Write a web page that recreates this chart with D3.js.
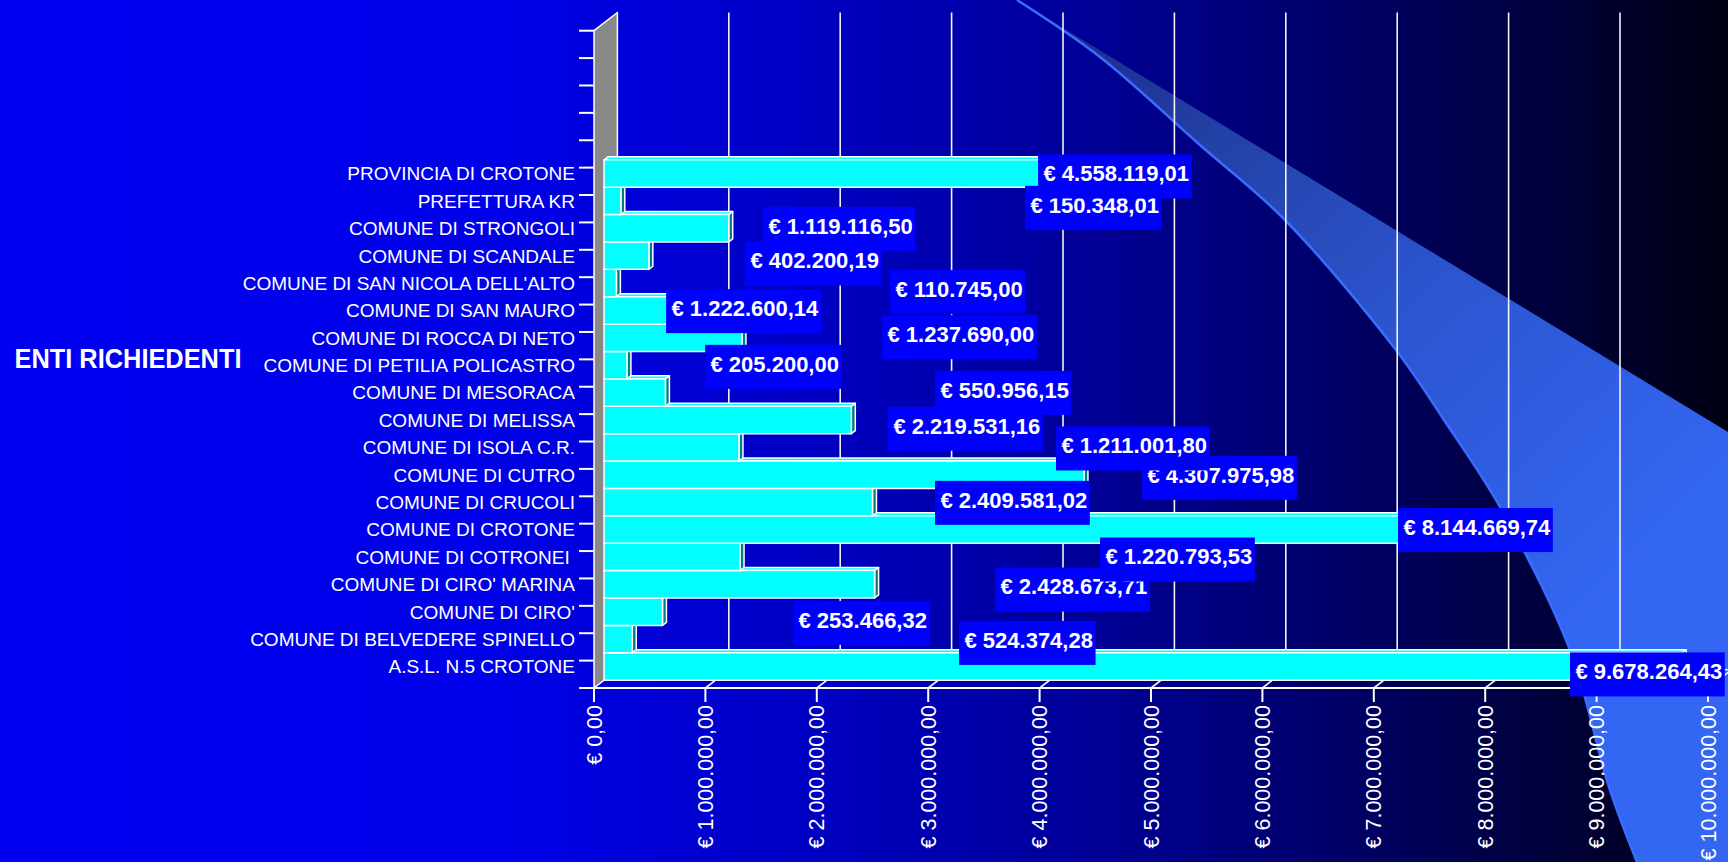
<!DOCTYPE html>
<html><head><meta charset="utf-8">
<script src="https://cdn.jsdelivr.net/npm/d3@7"></script>
<style>html,body{margin:0;padding:0;background:#0000f0;overflow:hidden}svg{display:block}</style>
</head><body><svg id="c" width="1728" height="862"></svg>
<script>
// ---------------- DATA ----------------
const categories = [
  "PROVINCIA DI CROTONE","PREFETTURA KR","COMUNE DI STRONGOLI","COMUNE DI SCANDALE",
  "COMUNE DI SAN NICOLA DELL'ALTO","COMUNE DI SAN MAURO","COMUNE DI ROCCA DI NETO",
  "COMUNE DI PETILIA POLICASTRO","COMUNE DI MESORACA","COMUNE DI MELISSA","COMUNE DI ISOLA C.R.",
  "COMUNE DI CUTRO","COMUNE DI CRUCOLI","COMUNE DI CROTONE","COMUNE DI COTRONEI ",
  "COMUNE DI CIRO' MARINA","COMUNE DI CIRO'","COMUNE DI BELVEDERE SPINELLO","A.S.L. N.5 CROTONE"
];
const values = [
  4558119.01, 150348.01, 1119116.50, 402200.19, 110745.00, 1222600.14, 1237690.00,
  205200.00, 550956.15, 2219531.16, 1211001.80, 4307975.98, 2409581.02, 8144669.74,
  1220793.53, 2428673.71, 524374.28, 253466.32, 9678264.43
];
// data labels as they appear in the picture (top to bottom)
const labelValues = [
  4558119.01, 150348.01, 1119116.50, 402200.19, 110745.00, 1222600.14, 1237690.00,
  205200.00, 550956.15, 2219531.16, 1211001.80, 4307975.98, 2409581.02, 8144669.74,
  1220793.53, 2428673.71, 253466.32, 524374.28, 9678264.43
];
// where each label box sits: left edge (in euro on the value scale) and row (category index)
const labelAtValue = [3.896e6,3.779e6,1.427e6,1.266e6,2.567e6,0.557e6,2.496e6,0.907e6,2.971e6,
  2.549e6,4.057e6,4.829e6,2.971e6,7.127e6,4.452e6,3.510e6,1.697e6,3.187e6,8.671e6];
const labelAtRow = [0.0,1.145,1.911,3.178,4.222,4.916,5.865,6.95,7.9,9.21,9.93,11.0,11.915,12.91,
  13.985,15.08,16.30,17.03,18.18];
const tickValues = [0,1e6,2e6,3e6,4e6,5e6,6e6,7e6,8e6,9e6,1e7];
const blankRows = 5;
const axisTitle = "ENTI RICHIEDENTI";

// ---------------- SETUP ----------------
const W = 1728, H = 862;
const svg = d3.select("#c");
const defs = svg.append("defs");
const fmt = d3.formatLocale({decimal: ",", thousands: ".", grouping: [3], currency: ["€ ", ""]}).format("$,.2f");
const FONT = "'Liberation Sans', Arial, sans-serif";

// background gradient
const bg = defs.append("linearGradient").attr("id","bg").attr("x1",0).attr("x2",1).attr("y1",0).attr("y2",0);
[[0,"#0000f2"],[0.28,"#0000ea"],[0.45,"#0000c8"],[0.62,"#00009a"],[0.78,"#000066"],[0.9,"#00003a"],[1,"#000012"]]
  .forEach(([o,c]) => bg.append("stop").attr("offset",o).attr("stop-color",c));
svg.append("rect").attr("width",W).attr("height",H).attr("fill","url(#bg)");

// decorative swoosh
const sw = defs.append("linearGradient").attr("id","sw").attr("gradientUnits","userSpaceOnUse")
  .attr("x1",1017).attr("y1",0).attr("x2",1600).attr("y2",600);
[[0,"#1a2585"],[0.3,"#2342a8"],[0.6,"#2c55d0"],[1,"#3366f2"]]
  .forEach(([o,c]) => sw.append("stop").attr("offset",o).attr("stop-color",c));
const curvePts = [[1017,0],[1100,57],[1200,145],[1285,220],[1396,350],[1444,420],[1500,507],[1570,650],[1609,787],[1637,862]];
const lg = d3.line().curve(d3.curveCatmullRom.alpha(0.5));
const revPath = lg(curvePts.slice().reverse()).replace(/^M[^LC]*/, "");
svg.append("path").attr("d", "M1017,0L1728,432L1728,862L1637,862" + revPath + "Z").attr("fill","url(#sw)");
svg.append("path").attr("d", lg(curvePts)).attr("fill","none").attr("stroke","#3a6cff").attr("stroke-width",2.5);

// ---------------- SCALES (pseudo 3D) ----------------
const X0 = 594, X1 = 1708, TOP = 30.7, BOT = 688;
const DX = 23.4, DY = -18.2, T0 = 0.43, T1 = 0.6;
const x = d3.scaleLinear().domain([0, 1e7]).range([X0, X1]);
const blanks = d3.range(blankRows).map(i => "__blank" + i);
const y = d3.scaleBand().domain([...blanks, ...categories]).range([TOP, BOT]);
const bw = y.bandwidth();
const P = (v, yy, t) => [x(v) + t * DX, yy + t * DY];
const poly = pts => "M" + pts.map(p => p.join(",")).join("L") + "Z";

// side wall
svg.append("path").attr("d", poly([P(0,TOP,0),P(0,TOP,1),P(0,BOT,1),P(0,BOT,0)]))
  .attr("fill","#888").attr("stroke","#fff").attr("stroke-width",1.5).attr("stroke-linejoin","round");

// back-wall gridlines and floor lines
const grid = svg.append("g").attr("stroke","#f2f2f2").attr("stroke-width",1.6);
tickValues.filter(v => v > 0).forEach(v => {
  const a = P(v,TOP,1), b = P(v,BOT,1);
  grid.append("line").attr("x1",a[0]).attr("y1",a[1]).attr("x2",b[0]).attr("y2",b[1]);
  const c = P(v,BOT,0);
  grid.append("line").attr("x1",c[0]).attr("y1",c[1]).attr("x2",b[0]).attr("y2",b[1]);
});
{
  const a = P(0,BOT,1), b = P(1e7,BOT,1);
  grid.append("line").attr("x1",a[0]).attr("y1",a[1]).attr("x2",b[0]).attr("y2",b[1]);
}
// value axis line + ticks
const ax = svg.append("g").attr("stroke","#fff").attr("stroke-width",2);
ax.append("line").attr("x1",x(0)).attr("y1",BOT).attr("x2",x(1e7)).attr("y2",BOT);
tickValues.forEach(v => ax.append("line").attr("x1",x(v)).attr("y1",BOT).attr("x2",x(v)).attr("y2",BOT+14));
// category ticks
const bounds = y.domain().map(d => y(d)).concat([BOT]);
bounds.forEach(b => ax.append("line").attr("x1",X0-15).attr("y1",b).attr("x2",X0).attr("y2",b));

// bars: bottom to top so upper bars cover lower top faces
const bars = svg.append("g").attr("stroke","#fff").attr("stroke-width",1.5).attr("stroke-linejoin","round");
d3.range(categories.length).reverse().forEach(i => {
  const v = values[i], y0 = y(categories[i]), y1 = y0 + bw;
  const g = bars.append("g");
  g.append("path").attr("d", poly([P(0,y0,T0),P(v,y0,T0),P(v,y0,T1),P(0,y0,T1)])).attr("fill","#00ffff");
  g.append("path").attr("d", poly([P(v,y0,T0),P(v,y0,T1),P(v,y1,T1),P(v,y1,T0)])).attr("fill","#008080");
  g.append("path").attr("d", poly([P(0,y0,T0),P(v,y0,T0),P(v,y1,T0),P(0,y1,T0)])).attr("fill","#00ffff");
});

// category labels
const catG = svg.append("g").attr("font-family",FONT).attr("font-size","19px").attr("fill","#fff").attr("text-anchor","end");
categories.forEach(c => {
  catG.append("text").attr("x", X0 - 19).attr("y", y(c) + bw/2 + T0*DY).attr("dy","0.36em")
    .style("white-space","pre").text(c);
});

// axis title
svg.append("text").attr("x",14.5).attr("y",368).attr("font-family",FONT).attr("font-weight","bold")
  .attr("font-size","27px").attr("fill","#fff").attr("textLength",227).attr("lengthAdjust","spacingAndGlyphs").text(axisTitle);

// value tick labels
const tl = svg.append("g").attr("font-family",FONT).attr("font-size","21.5px").attr("fill","#fff").attr("text-anchor","end");
tickValues.forEach(v => tl.append("text").attr("transform",`translate(${x(v)},705) rotate(-90)`).attr("dy","0.35em").text(fmt(v)));

// data labels (drawn bottom first so upper boxes sit on top)
const lab = svg.append("g").attr("font-family",FONT).attr("font-weight","bold").attr("font-size","22px");
const rowTop = y(categories[0]);
d3.range(labelValues.length).reverse().forEach(i => {
  const bx = x(labelAtValue[i]) + T0 * DX;
  const cy = rowTop + (labelAtRow[i] + 0.5) * bw + T0 * DY;
  const g = lab.append("g");
  const r = g.append("rect").attr("fill","#0000ff");
  const t = g.append("text").attr("x", bx + 5.4).attr("y", cy).attr("dy","0.36em").attr("fill","#fff").text(fmt(labelValues[i]));
  const w = t.node().getComputedTextLength();
  r.attr("x", bx).attr("y", cy - 19).attr("width", w + 8).attr("height", 44);
});
</script>
</body></html>
